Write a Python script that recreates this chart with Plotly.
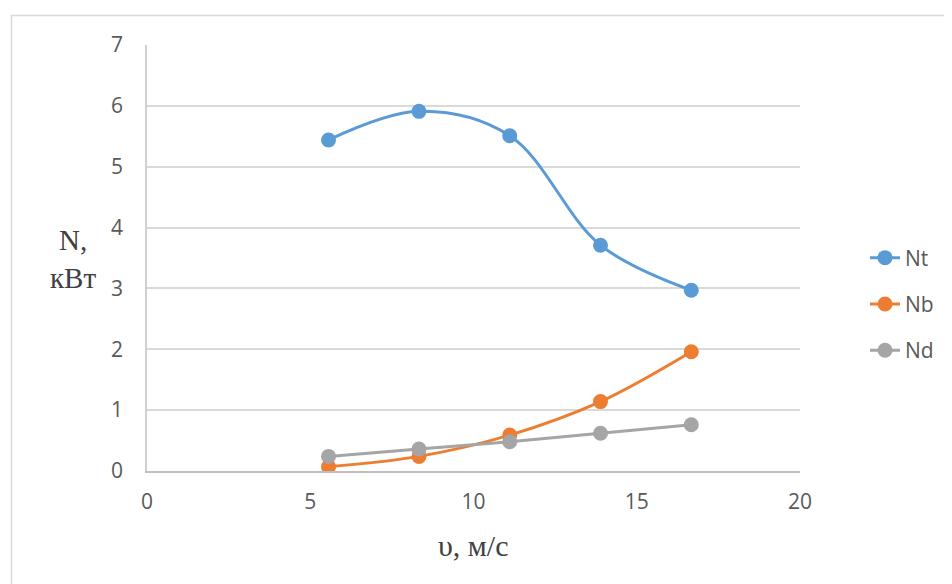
import plotly.graph_objects as go

# Data
speed = [5.56, 8.33, 11.11, 13.89, 16.67]
Nt = [5.44, 5.91, 5.51, 3.71, 2.97]
Nb = [0.07, 0.24, 0.59, 1.14, 1.96]
Nd = [0.24, 0.36, 0.48, 0.62, 0.76]
series_names = ["Nt", "Nb", "Nd"]
series_colors = ["#5b9bd5", "#ed7d31", "#a5a5a5"]
x_ticks = [0, 5, 10, 15, 20]
y_ticks = [0, 1, 2, 3, 4, 5, 6, 7]

OFF = 8  # page body margin
W, H = 952 - OFF, 584 - OFF
# target plot area in window pixels: x 147..800, y 45..471
L, T = 147 - OFF, 45 - OFF
R = W - (800 - OFF)
B = H - (471 - OFF)
pw, ph = W - L - R, H - T - B

def px_x(p):
    return (p - OFF - L) / pw

def px_y(p):
    return (H - B - (p - OFF)) / ph

fig = go.Figure()
for name, vals, col in zip(series_names, [Nt, Nb, Nd], series_colors):
    fig.add_trace(go.Scatter(
        x=speed, y=vals, name=name, mode="lines+markers",
        line=dict(color=col, width=3, shape="spline", smoothing=1),
        marker=dict(color=col, size=15),
        legendgroup=name,
    ))

tick_font = dict(family="Open Sans", size=21, color="#595959")
title_font = dict(family="Liberation Serif", size=29, color="#404040")

fig.update_layout(
    width=W, height=H,
    margin=dict(l=L, r=R, t=T, b=B, pad=0),
    paper_bgcolor="white", plot_bgcolor="white",
    showlegend=True,
    legend=dict(
        x=px_x(865), y=px_y(304), xanchor="left", yanchor="middle",
        font=dict(family="Open Sans", size=21, color="#595959"),
        tracegroupgap=16, bgcolor="rgba(0,0,0,0)",
    ),
    xaxis=dict(
        range=[0, 20], tickvals=x_ticks, ticktext=[str(v) for v in x_ticks],
        showgrid=False, zeroline=False,
        showline=True, linecolor="#bfbfbf", linewidth=1.5,
        ticks="", tickfont=tick_font, ticklabelstandoff=11,
        fixedrange=True,
    ),
    yaxis=dict(
        range=[0, 7], tickvals=y_ticks, ticktext=[str(v) for v in y_ticks],
        showgrid=True, gridcolor="#d9d9d9", gridwidth=1.5, zeroline=False,
        showline=True, linecolor="#d0d0d0", linewidth=1.5,
        ticks="", tickfont=tick_font, ticklabelstandoff=18,
        fixedrange=True,
    ),
    shapes=[dict(
        type="rect", xref="paper", yref="paper",
        x0=px_x(11.5), x1=px_x(1000), y0=px_y(700), y1=px_y(15.5),
        line=dict(color="#d9d9d9", width=1.5), layer="below",
    )],
    annotations=[
        dict(text="N,<br>кВт", xref="paper", yref="paper",
             x=px_x(73), y=px_y(259), xanchor="center", yanchor="middle",
             showarrow=False, font=title_font),
        dict(text="υ, м/с", xref="paper", yref="paper",
             x=px_x(473), y=px_y(545), xanchor="center", yanchor="middle",
             showarrow=False, font=dict(family="Liberation Serif", size=30, color="#404040")),
    ],
)

fig.write_html("out.html")
